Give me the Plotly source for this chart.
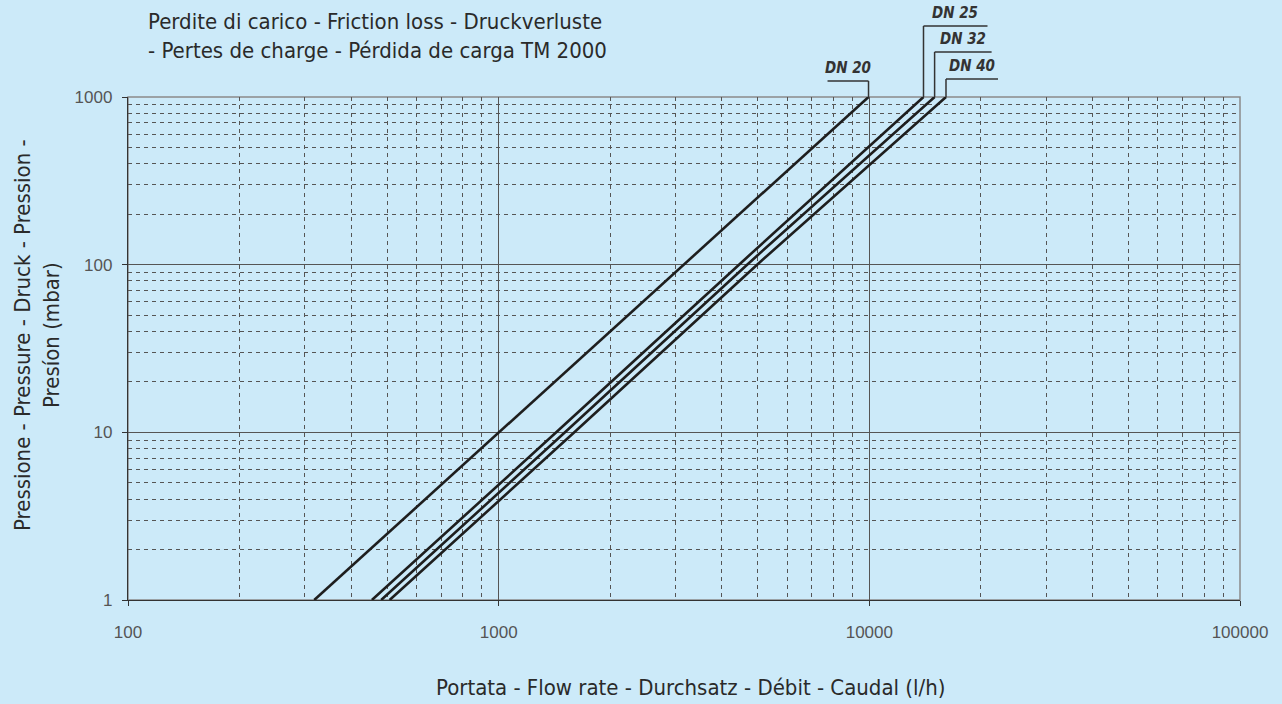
import math
import plotly.graph_objects as go

# ---- data ----
pressure_mbar = [1, 10, 100, 1000]
series_names = ["DN 20", "DN 25", "DN 32", "DN 40"]
flow_dn20 = [318, 1000, 3150, 9950]
flow_dn25 = [455, 1430, 4450, 14000]
flow_dn32 = [482, 1510, 4680, 15000]
flow_dn40 = [508, 1600, 4980, 16100]
x_tick_values = [100, 1000, 10000, 100000]
x_tick_labels = ["100", "1000", "10000", "100000"]
y_tick_values = [1, 10, 100, 1000]
y_tick_labels = ["1", "10", "100", "1000"]

title_line1 = "Perdite di carico - Friction loss - Druckverluste"
title_line2 = "- Pertes de charge - Pérdida de carga TM 2000"
x_title = "Portata - Flow rate - Durchsatz - Débit - Caudal (l/h)"
y_title = "Pressione - Pressure - Druck - Pression -<br>Presíon (mbar)"

# ---- layout geometry ----
W, H = 1282, 704
L, R, T, B = 128, 42, 97, 104
PW, PH = W - L - R, H - T - B
BG = "#CCEAF9"
FONT = "DejaVu Sans Condensed, Liberation Sans Narrow, sans-serif"
TICKFONT = "Liberation Sans, Arial, sans-serif"
XMIN, XMAX = 100, 100000

def xp(px):
    return (px - L) / PW

def yp(py):
    return (H - B - py) / PH

fig = go.Figure()
all_flows = [flow_dn20, flow_dn25, flow_dn32, flow_dn40]
for name, flows in zip(series_names, all_flows):
    fig.add_trace(go.Scatter(x=flows, y=pressure_mbar, mode="lines", name=name,
                             line=dict(color="#1e1e1e", width=2.6), showlegend=False))

grid_col = "#555555"
common_axis = dict(
    type="log", showline=True, linecolor="#333333", linewidth=1.3,
    ticks="outside", ticklen=5, tickcolor="#333333",
    showgrid=True, gridcolor="#555555", gridwidth=1,
    tickfont=dict(family=TICKFONT, size=17, color="#555555"),
    zeroline=False,
    minor=dict(showgrid=True, gridcolor=grid_col, griddash="4px,4px", gridwidth=1,
               dtick="D1", ticks=""),
)
fig.update_xaxes(**common_axis, range=[math.log10(XMIN), math.log10(XMAX)],
                 tickvals=x_tick_values, ticktext=x_tick_labels, ticklabelstandoff=11)
fig.update_yaxes(**common_axis, range=[0, 3],
                 tickvals=y_tick_values, ticktext=y_tick_labels, ticklabelstandoff=6)

shapes = []
shapes.append(dict(type="rect", xref="paper", yref="paper", x0=0, x1=1, y0=0, y1=1,
                   line=dict(color="#8a8a8a", width=1.5), layer="below"))

annotations = []
tfont = dict(family=FONT, size=22, color="#2a2a2a")
annotations.append(dict(text=title_line1, xref="paper", yref="paper", x=xp(146), y=yp(7),
                        xanchor="left", yanchor="top", showarrow=False, font=tfont))
annotations.append(dict(text=title_line2, xref="paper", yref="paper", x=xp(146), y=yp(36),
                        xanchor="left", yanchor="top", showarrow=False, font=tfont))
annotations.append(dict(text=x_title, xref="paper", yref="paper", x=xp(691), y=yp(687),
                        xanchor="center", yanchor="middle", showarrow=False, font=tfont))
annotations.append(dict(text=y_title, xref="paper", yref="paper", x=xp(37), y=yp(335),
                        xanchor="center", yanchor="middle", showarrow=False, textangle=-90,
                        font=tfont))

# series labels with leader lines: (label height px, horizontal offset px from line end)
label_style = [(81, -41), (26, 64), (52, 57), (79, 52)]
for name, flows, (ly, dx) in zip(series_names, all_flows, label_style):
    x_end = (math.log10(flows[-1]) - math.log10(XMIN)) / (math.log10(XMAX) - math.log10(XMIN))
    y_top = yp(ly)
    shapes.append(dict(type="line", xref="paper", yref="paper", x0=x_end, x1=x_end,
                       y0=1, y1=y_top, line=dict(color="#333333", width=1.5)))
    x_other = x_end + dx / PW
    shapes.append(dict(type="line", xref="paper", yref="paper", x0=x_end, x1=x_other,
                       y0=y_top, y1=y_top, line=dict(color="#333333", width=1.5)))
    annotations.append(dict(text=f"<b><i>{name}</i></b>", xref="paper", yref="paper",
                            x=(x_end + x_other) / 2, y=y_top + 1.5 / PH,
                            xanchor="center", yanchor="bottom", showarrow=False,
                            font=dict(family=FONT, size=15, color="#333333")))

fig.update_layout(width=W, height=H, margin=dict(l=L, r=R, t=T, b=B),
                  paper_bgcolor=BG, plot_bgcolor=BG, shapes=shapes, annotations=annotations,
                  showlegend=False)
fig.write_html("out.html", config={"displayModeBar": False},
               post_script="document.body.style.margin='0';document.body.style.background='%s';"
                           "document.body.style.overflow='hidden';" % BG)
